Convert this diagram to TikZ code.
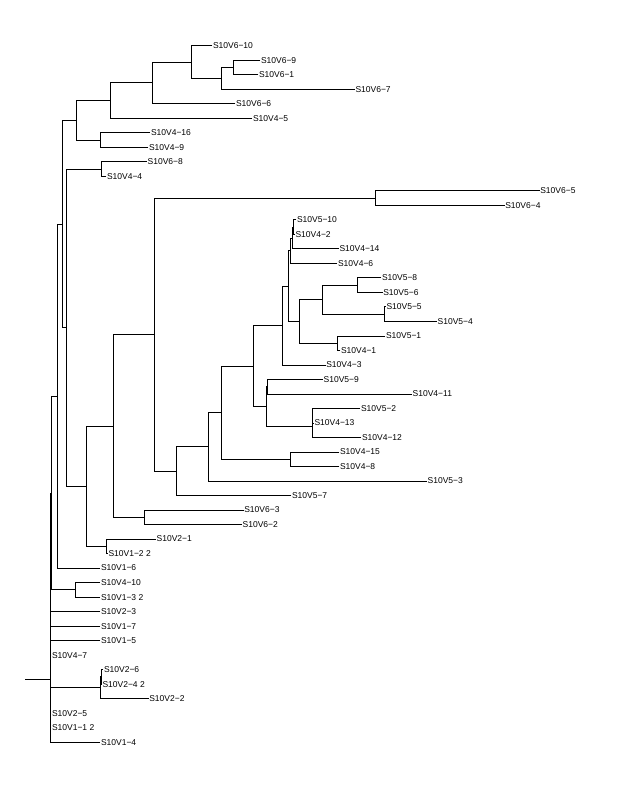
\documentclass[tikz,border=0pt]{standalone}
\usepackage{fontspec}
\setmainfont{Liberation Sans}
\usepackage{tikz}
\usetikzlibrary{positioning}

\begin{document}
\begin{tikzpicture}[x=1pt, y=-1pt, outer sep=0pt]

\tikzstyle{leaf}=[anchor=west, inner sep=1pt, font=\fontsize{8.5}{10}\selectfont]
\tikzstyle{branch}=[line width=0.8pt, line cap=rect]

\useasboundingbox (0,0) rectangle (637,790);

% tip labels, top to bottom
\node[leaf] (v6n10) at (212,45.70) {S10V6−10};
\node[leaf] (v6n9) at (260,60.21) {S10V6−9};
\node[leaf] (v6n1) at (258,74.72) {S10V6−1};
\node[leaf] (v6n7) at (354.5,89.23) {S10V6−7};
\node[leaf] (v6n6) at (235,103.74) {S10V6−6};
\node[leaf] (v4n5) at (252,118.25) {S10V4−5};
\node[leaf] (v4n16) at (150,132.76) {S10V4−16};
\node[leaf] (v4n9) at (148,147.27) {S10V4−9};
\node[leaf] (v6n8) at (146.7,161.78) {S10V6−8};
\node[leaf] (v4n4) at (106,176.29) {S10V4−4};
\node[leaf] (v6n5) at (539.3,190.80) {S10V6−5};
\node[leaf] (v6n4) at (504.3,205.31) {S10V6−4};
\node[leaf] (v5n10) at (296,219.82) {S10V5−10};
\node[leaf] (v4n2) at (294.5,234.33) {S10V4−2};
\node[leaf] (v4n14) at (338.5,248.84) {S10V4−14};
\node[leaf] (v4n6) at (337,263.35) {S10V4−6};
\node[leaf] (v5n8) at (381,277.86) {S10V5−8};
\node[leaf] (v5n6) at (382.3,292.37) {S10V5−6};
\node[leaf] (v5n5) at (385.5,306.88) {S10V5−5};
\node[leaf] (v5n4) at (436.7,321.39) {S10V5−4};
\node[leaf] (v5n1) at (385,335.90) {S10V5−1};
\node[leaf] (v4n1) at (340,350.41) {S10V4−1};
\node[leaf] (v4n3) at (325.3,364.92) {S10V4−3};
\node[leaf] (v5n9) at (322.7,379.43) {S10V5−9};
\node[leaf] (v4n11) at (411.7,393.94) {S10V4−11};
\node[leaf] (v5n2) at (360,408.45) {S10V5−2};
\node[leaf] (v4n13) at (313.5,422.96) {S10V4−13};
\node[leaf] (v4n12) at (361,437.47) {S10V4−12};
\node[leaf] (v4n15) at (339,451.98) {S10V4−15};
\node[leaf] (v4n8) at (339,466.49) {S10V4−8};
\node[leaf] (v5n3) at (426.7,481.00) {S10V5−3};
\node[leaf] (v5n7) at (291,495.51) {S10V5−7};
\node[leaf] (v6n3) at (243.3,510.02) {S10V6−3};
\node[leaf] (v6n2) at (241.7,524.53) {S10V6−2};
\node[leaf] (v2n1) at (155.7,539.04) {S10V2−1};
\node[leaf] (v1n2b) at (107.5,553.55) {S10V1−2 2};
\node[leaf] (v1n6) at (100,568.06) {S10V1−6};
\node[leaf] (v4n10) at (100,582.57) {S10V4−10};
\node[leaf] (v1n3b) at (100,597.08) {S10V1−3 2};
\node[leaf] (v2n3) at (100,611.59) {S10V2−3};
\node[leaf] (v1n7) at (100,626.10) {S10V1−7};
\node[leaf] (v1n5) at (100,640.61) {S10V1−5};
\node[leaf] (v4n7) at (51,655.12) {S10V4−7};
\node[leaf] (v2n6) at (103,669.63) {S10V2−6};
\node[leaf] (v2n4b) at (101.5,684.14) {S10V2−4 2};
\node[leaf] (v2n2) at (148.3,698.65) {S10V2−2};
\node[leaf] (v2n5) at (51,713.16) {S10V2−5};
\node[leaf] (v1n1b) at (51,727.67) {S10V1−1 2};
\node[leaf] (v1n4) at (100,742.18) {S10V1−4};

% inner nodes
\coordinate (a1) at (233,67.47);
\coordinate (a2) at (221,78.35);
\coordinate (a3) at (191.7,62.03);
\coordinate (a4) at (152.7,82.88);
\coordinate (a5) at (110.3,100.57);
\coordinate (a6) at (100.3,140.02);
\coordinate (a7) at (76.7,120.29);
\coordinate (a8) at (101,169.04);
\coordinate (b1) at (375.3,198.06);
\coordinate (c1) at (293.5,227.08);
\coordinate (c2) at (292,237.96);
\coordinate (c3) at (290,250.65);
\coordinate (d1) at (357.7,285.12);
\coordinate (d2) at (384.7,314.14);
\coordinate (d3) at (322.3,299.63);
\coordinate (d4) at (337.7,343.16);
\coordinate (d5) at (299.3,321.39);
\coordinate (c4) at (288.5,286.02);
\coordinate (c5) at (282.7,325.47);
\coordinate (e1) at (267.7,386.69);
\coordinate (e2) at (312.5,415.71);
\coordinate (e3) at (312,426.59);
\coordinate (e4) at (266,406.64);
\coordinate (c6) at (253.3,366.06);
\coordinate (f1) at (290,459.24);
\coordinate (c7) at (221,412.65);
\coordinate (c8) at (208.3,446.83);
\coordinate (c9) at (176.7,471.17);
\coordinate (b2) at (154.3,334.62);
\coordinate (g1) at (144.3,517.28);
\coordinate (b3) at (113.7,425.95);
\coordinate (h1) at (106,546.30);
\coordinate (b4) at (86.7,486.12);
\coordinate (a9) at (66.7,327.58);
\coordinate (a10) at (62.3,223.94);
\coordinate (r1) at (57.7,396.00);
\coordinate (k1) at (75.3,589.83);
\coordinate (r2) at (51,492.91);
\coordinate (m1) at (101.5,676.88);
\coordinate (m2) at (100,687.77);
\coordinate (root) at (50,679);
\coordinate (base) at (25,679);

% branches
\draw[branch] (a1) |- (v6n9.west) (a1) |- (v6n1.west);
\draw[branch] (a2) |- (a1) (a2) |- (v6n7.west);
\draw[branch] (a3) |- (v6n10.west) (a3) |- (a2);
\draw[branch] (a4) |- (a3) (a4) |- (v6n6.west);
\draw[branch] (a5) |- (a4) (a5) |- (v4n5.west);
\draw[branch] (a6) |- (v4n16.west) (a6) |- (v4n9.west);
\draw[branch] (a7) |- (a5) (a7) |- (a6);
\draw[branch] (a8) |- (v6n8.west) (a8) |- (v4n4.west);
\draw[branch] (b1) |- (v6n5.west) (b1) |- (v6n4.west);
\draw[branch] (c1) |- (v5n10.west) (c1) |- (v4n2.west);
\draw[branch] (c2) |- (c1) (c2) |- (v4n14.west);
\draw[branch] (c3) |- (c2) (c3) |- (v4n6.west);
\draw[branch] (d1) |- (v5n8.west) (d1) |- (v5n6.west);
\draw[branch] (d2) |- (v5n5.west) (d2) |- (v5n4.west);
\draw[branch] (d3) |- (d1) (d3) |- (d2);
\draw[branch] (d4) |- (v5n1.west) (d4) |- (v4n1.west);
\draw[branch] (d5) |- (d3) (d5) |- (d4);
\draw[branch] (c4) |- (c3) (c4) |- (d5);
\draw[branch] (c5) |- (c4) (c5) |- (v4n3.west);
\draw[branch] (e1) |- (v5n9.west) (e1) |- (v4n11.west);
\draw[branch] (e2) |- (v5n2.west) (e2) |- (v4n13.west);
\draw[branch] (e3) |- (e2) (e3) |- (v4n12.west);
\draw[branch] (e4) |- (e1) (e4) |- (e3);
\draw[branch] (c6) |- (c5) (c6) |- (e4);
\draw[branch] (f1) |- (v4n15.west) (f1) |- (v4n8.west);
\draw[branch] (c7) |- (c6) (c7) |- (f1);
\draw[branch] (c8) |- (c7) (c8) |- (v5n3.west);
\draw[branch] (c9) |- (c8) (c9) |- (v5n7.west);
\draw[branch] (b2) |- (b1) (b2) |- (c9);
\draw[branch] (g1) |- (v6n3.west) (g1) |- (v6n2.west);
\draw[branch] (b3) |- (b2) (b3) |- (g1);
\draw[branch] (h1) |- (v2n1.west) (h1) |- (v1n2b.west);
\draw[branch] (b4) |- (b3) (b4) |- (h1);
\draw[branch] (a9) |- (a8) (a9) |- (b4);
\draw[branch] (a10) |- (a7) (a10) |- (a9);
\draw[branch] (r1) |- (a10) (r1) |- (v1n6.west);
\draw[branch] (k1) |- (v4n10.west) (k1) |- (v1n3b.west);
\draw[branch] (r2) |- (r1) (r2) |- (k1);
\draw[branch] (m1) |- (v2n6.west) (m1) |- (v2n4b.west);
\draw[branch] (m2) |- (m1) (m2) |- (v2n2.west);
\draw[branch] (root) |- (r2) (root) |- (v2n3.west) (root) |- (v1n7.west)
  (root) |- (v1n5.west) (root) |- (v4n7.west) (root) |- (m2)
  (root) |- (v2n5.west) (root) |- (v1n1b.west) (root) |- (v1n4.west);
\draw[branch] (base) -- (root);
\end{tikzpicture}
\end{document}
